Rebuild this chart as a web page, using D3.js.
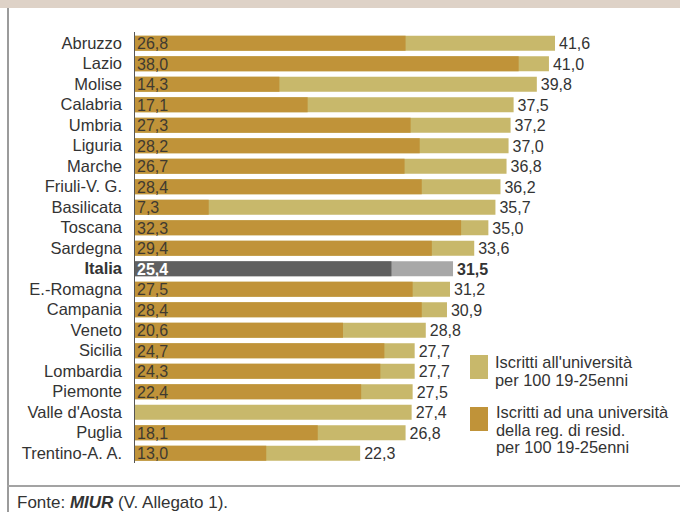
<!DOCTYPE html>
<html>
<head>
<meta charset="utf-8">
<script src="https://cdn.jsdelivr.net/npm/d3@7/dist/d3.min.js"></script>
<style>
  html, body { margin: 0; padding: 0; background: #ffffff; }
  svg { display: block; font-family: "Liberation Sans", Arial, sans-serif; }
</style>
</head>
<body>
<svg id="chart" width="680" height="512"></svg>
<script>
// Regions, ordered as shown
const regions = ["Abruzzo", "Lazio", "Molise", "Calabria", "Umbria", "Liguria", "Marche",
  "Friuli-V. G.", "Basilicata", "Toscana", "Sardegna", "Italia", "E.-Romagna", "Campania",
  "Veneto", "Sicilia", "Lombardia", "Piemonte", "Valle d'Aosta", "Puglia", "Trentino-A. A."];

// Enrolled at any university per 100 residents aged 19-25
const totalEnrolled = [41.6, 41.0, 39.8, 37.5, 37.2, 37.0, 36.8, 36.2, 35.7, 35.0, 33.6,
  31.5, 31.2, 30.9, 28.8, 27.7, 27.7, 27.5, 27.4, 26.8, 22.3];

// Enrolled at a university in the region of residence per 100 residents aged 19-25
const sameRegion = [26.8, 38.0, 14.3, 17.1, 27.3, 28.2, 26.7, 28.4, 7.3, 32.3, 29.4,
  25.4, 27.5, 28.4, 20.6, 24.7, 24.3, 22.4, null, 18.1, 13.0];

const legendLabels = [
  ["Iscritti all'università", "per 100 19-25enni"],
  ["Iscritti ad una università", "della reg. di resid.", "per 100 19-25enni"]
];

const fmt = v => v.toFixed(1).replace(".", ",");

const C_TOTAL = "#c8b86b", C_SAME = "#c09339";
const C_IT_TOTAL = "#a8a8a8", C_IT_SAME = "#606060";
const TEXT = "#333333";

const svg = d3.select("#chart");
const W = 680, H = 512;

// frame: top band, left rule, footer rule
svg.append("rect").attr("x", 0).attr("y", 0).attr("width", W).attr("height", 8).attr("fill", "#ded2c7");
svg.append("rect").attr("x", 7).attr("y", 8).attr("width", 2).attr("height", H - 8).attr("fill", "#9b9b9b");
svg.append("rect").attr("x", 7).attr("y", 485).attr("width", W - 7).attr("height", 2).attr("fill", "#a3a3a3");

const x = d3.scaleLinear().domain([0, 41.6]).range([135, 555]);
const y = d3.scaleBand().domain(regions).range([33, 463.5]).paddingInner(0.268).paddingOuter(0.134);

const rows = regions.map((r, i) => ({ region: r, total: totalEnrolled[i], same: sameRegion[i], italia: r === "Italia" }));

const g = svg.append("g");

// outer bars (total)
g.selectAll("rect.total").data(rows).join("rect")
  .attr("class", "total")
  .attr("x", x(0)).attr("y", d => y(d.region))
  .attr("width", d => x(d.total) - x(0)).attr("height", y.bandwidth())
  .attr("fill", d => d.italia ? C_IT_TOTAL : C_TOTAL);

// inner bars (same region)
g.selectAll("rect.same").data(rows.filter(d => d.same != null)).join("rect")
  .attr("class", "same")
  .attr("x", x(0)).attr("y", d => y(d.region))
  .attr("width", d => x(d.same) - x(0)).attr("height", y.bandwidth())
  .attr("fill", d => d.italia ? C_IT_SAME : C_SAME);

// axis baseline and region labels
const axis = d3.axisLeft(y).tickSize(0).tickPadding(12);
const axG = svg.append("g").attr("transform", `translate(${x(0) - 1},0)`).call(axis);
axG.select(".domain").attr("d", "M0.5,32V463").attr("stroke", "#555").attr("stroke-width", 1);
axG.selectAll(".tick text")
  .attr("font-family", "Liberation Sans, Arial, sans-serif")
  .attr("font-size", 16.5).attr("fill", TEXT)
  .attr("font-weight", d => d === "Italia" ? "bold" : "normal");

// value labels at bar ends
g.selectAll("text.tot").data(rows).join("text")
  .attr("class", "tot")
  .attr("x", d => x(d.total) + 4).attr("y", d => y(d.region) + y.bandwidth() / 2)
  .attr("dy", "0.36em").attr("font-size", 16).attr("fill", TEXT)
  .attr("font-weight", d => d.italia ? "bold" : "normal")
  .text(d => fmt(d.total));

// value labels inside bars
g.selectAll("text.in").data(rows.filter(d => d.same != null)).join("text")
  .attr("class", "in")
  .attr("x", x(0) + 2).attr("y", d => y(d.region) + y.bandwidth() / 2)
  .attr("dy", "0.36em").attr("font-size", 16)
  .attr("fill", d => d.italia ? "#ffffff" : "#3f3a30")
  .attr("font-weight", d => d.italia ? "bold" : "normal")
  .text(d => fmt(d.same));

// legend
const legend = [
  { color: C_TOTAL, sy: 355, lines: legendLabels[0], ty: 368, tx: 495 },
  { color: C_SAME, sy: 407, lines: legendLabels[1], ty: 418, tx: 496 }
];
legend.forEach(l => {
  svg.append("rect").attr("x", 470).attr("y", l.sy).attr("width", 18).attr("height", 24).attr("fill", l.color);
  const t = svg.append("text").attr("font-size", 16.4).attr("fill", TEXT);
  l.lines.forEach((s, i) => t.append("tspan").attr("x", l.tx).attr("y", l.ty + i * 17.5).text(s));
});

// source note
const src = svg.append("text").attr("x", 17).attr("y", 508).attr("font-size", 17).attr("fill", TEXT);
src.append("tspan").text("Fonte: ");
src.append("tspan").attr("font-weight", "bold").attr("font-style", "italic").text("MIUR");
src.append("tspan").text(" (V. Allegato 1).");
</script>
</body>
</html>
